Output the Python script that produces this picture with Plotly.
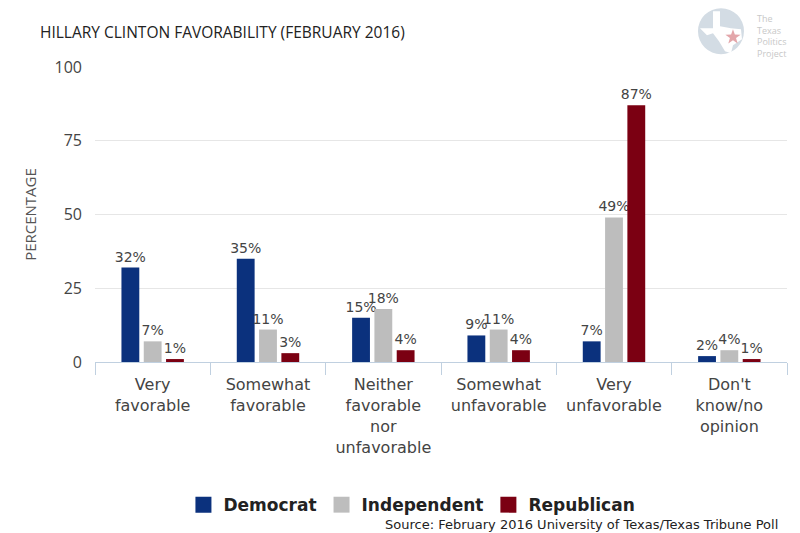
import math
import plotly.graph_objects as go

# Data
categories = ["Very<br>favorable", "Somewhat<br>favorable", "Neither<br>favorable<br>nor<br>unfavorable",
              "Somewhat<br>unfavorable", "Very<br>unfavorable", "Don't<br>know/no<br>opinion"]
democrat = [32, 35, 15, 9, 7, 2]
independent = [7, 11, 18, 11, 49, 4]
republican = [1, 3, 4, 4, 87, 1]
y_ticks = [0, 25, 50, 75, 100]

series = [
    ("Democrat", democrat, "#0b317d"),
    ("Independent", independent, "#bdbdbd"),
    ("Republican", republican, "#7b0012"),
]

fig = go.Figure()
for name, vals, col in series:
    fig.add_trace(go.Bar(
        name=name,
        x=categories,
        y=vals,
        marker=dict(color=col, line=dict(width=0)),
        text=[f"{v}%" for v in vals],
        textposition="outside",
        cliponaxis=False,
        textfont=dict(family="DejaVu Sans", size=14, color="#444444"),
        showlegend=False,
    ))

# legend entries with bigger square swatches
for name, vals, col in series:
    fig.add_trace(go.Scatter(
        name=name, x=[None], y=[None], mode="markers",
        marker=dict(symbol="square", size=19, color=col),
    ))

fig.update_layout(
    width=800, height=533,
    paper_bgcolor="white", plot_bgcolor="white",
    margin=dict(l=95, r=13, t=67, b=170),
    barmode="group", bargap=0.42, bargroupgap=0.2,
    uniformtext=dict(minsize=14, mode="show"),
    title=dict(text="HILLARY CLINTON FAVORABILITY (FEBRUARY 2016)",
               x=0.05, xanchor="left", y=0.938, yanchor="middle",
               font=dict(family="Open Sans", size=15.5, color="#222222")),
    legend=dict(orientation="h", x=0.458, xanchor="center", y=-0.48, yanchor="middle",
                font=dict(family="DejaVu Sans", size=17, color="#222222", weight="bold"),
                itemwidth=30, traceorder="normal"),
    xaxis=dict(showline=True, linecolor="#c0d0e0", linewidth=1,
               ticks="outside", tickson="boundaries", ticklen=12, tickcolor="#c0d0e0",
               ticklabelstandoff=8,
               tickfont=dict(family="DejaVu Sans", size=16, color="#444444"),
               showgrid=False),
    yaxis=dict(range=[0, 100], tickvals=y_ticks, showgrid=True, gridcolor="#e6e6e6",
               zeroline=False, ticks="", ticklabelstandoff=12,
               tickfont=dict(family="Open Sans", size=16, color="#444444"),
               title=dict(text="PERCENTAGE", standoff=14,
                          font=dict(family="Open Sans", size=15, color="#555555"))),
    showlegend=True,
)

# Logo approximation (top right): disc with Texas outline, star and text
logo = dict(xref="paper", yref="paper", xsizemode="pixel", ysizemode="pixel",
            xanchor=0.9046, yanchor=1.1216)
fig.add_shape(type="circle", x0=-23, x1=23, y0=-23, y1=23,
              line=dict(width=0), fillcolor="#d3dce4", **logo)
fig.add_shape(type="path",
              path="M -8 20 L -1 20 L -1 5 L 10 3 L 20 2 L 21 -8 L 12 -14 L 10 -22 L 4 -20 "
                   "L -2 -10 L -8 -2 L -14 -4 L -21 3 L -8 3 Z",
              line=dict(width=0), fillcolor="white", **logo)
star_pts = []
for k in range(10):
    r = 8 if k % 2 == 0 else 3.2
    a = math.radians(90 + 36 * k)
    star_pts.append(f"{12 + r * math.cos(a):.2f} {-6 + r * math.sin(a):.2f}")
fig.add_shape(type="path", path="M " + " L ".join(star_pts) + " Z",
              line=dict(width=0), fillcolor="#e3a6aa", **logo)
fig.add_annotation(text="The<br>Texas<br>Politics<br>Project", xref="paper", yref="paper",
                   x=0.954, y=1.1926, xanchor="left", yanchor="top", align="left",
                   showarrow=False, font=dict(family="Open Sans", size=9, color="#c8c8c8"))

# Source note
fig.add_annotation(text="Source: February 2016 University of Texas/Texas Tribune Poll",
                   xref="paper", yref="paper", x=0.99, y=-0.551, xanchor="right", yanchor="middle",
                   showarrow=False, font=dict(family="DejaVu Sans", size=13, color="#222222"))

fig.write_html("out.html", config={"displayModeBar": False},
               post_script="document.body.style.margin='0px';")
